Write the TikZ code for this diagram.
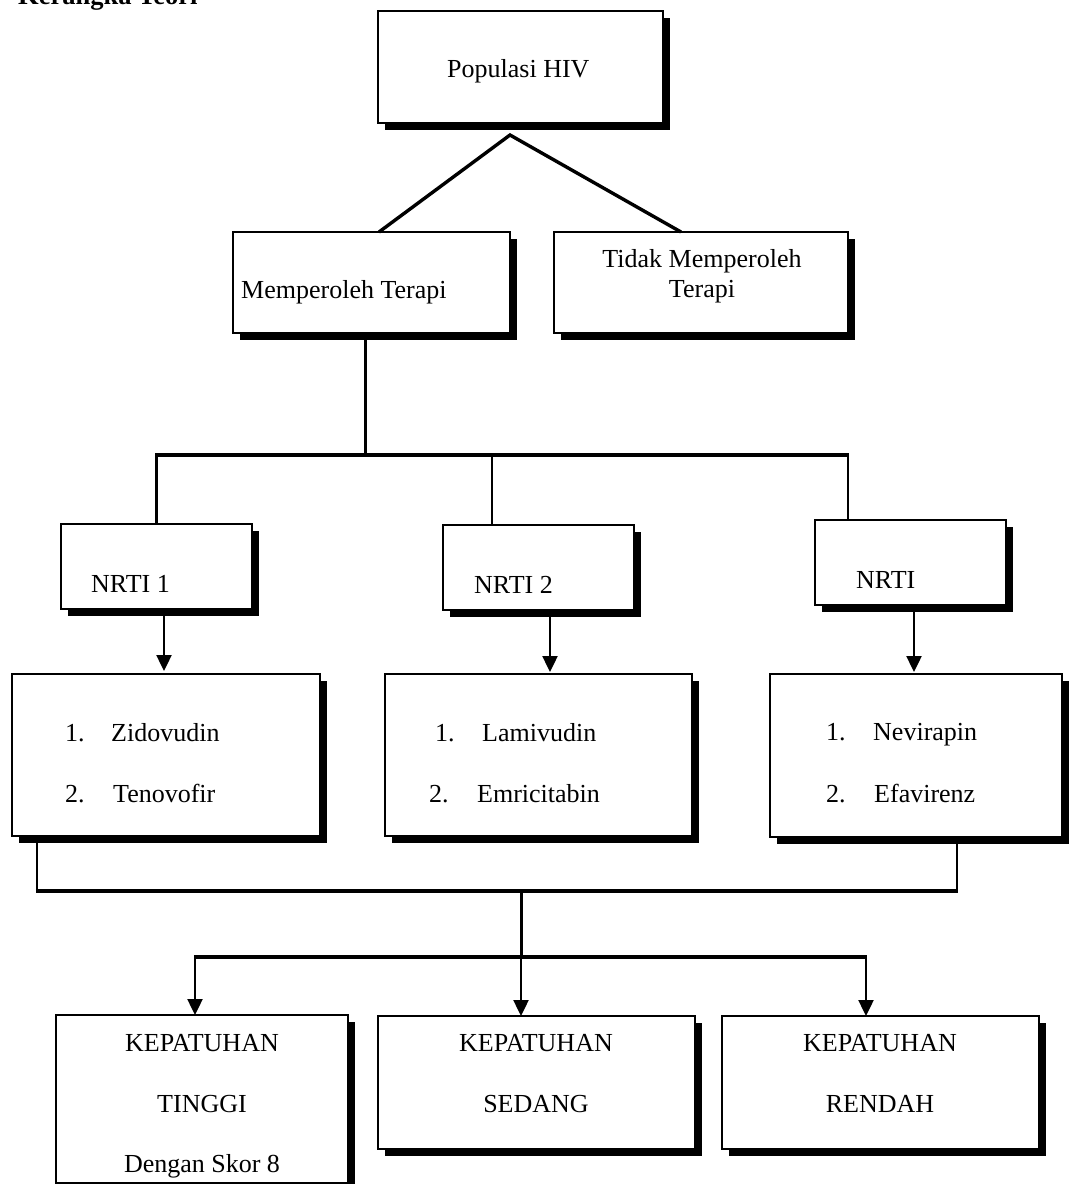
\documentclass[tikz,border=0pt]{standalone}
\usepackage{fontspec}
\setmainfont{Liberation Serif}
\usetikzlibrary{arrows.meta,shadows}
\begin{document}
\begin{tikzpicture}[x=1pt,y=-1pt,
  box/.style={draw=black, line width=1.6pt, fill=white, rectangle, inner sep=0pt, outer sep=0pt,
     drop shadow={fill=black, opacity=1, shadow xshift=6.5pt, shadow yshift=-6.5pt}},
  txt/.style={inner sep=0pt, anchor=base west, font=\fontsize{26}{31}\selectfont},
  ctxt/.style={inner sep=0pt, anchor=base, font=\fontsize{26}{31}\selectfont},
  heavy/.style={line width=3.4pt},
  light/.style={line width=2.3pt},
  arr/.style={line width=2.4pt, -{Triangle[width=15pt,length=16pt]}},
]
\useasboundingbox (0,0) rectangle (1081,1184);

% title (partly cut off at top, as in the reference)
\node[inner sep=0pt, anchor=base west, font=\fontsize{26.5}{30}\selectfont\bfseries] (title) at (18,4) {Kerangka Teori};

% boxes
\node[box, minimum width=285pt, minimum height=112pt] (pop) at (520.5,67) {};
\node[box, minimum width=277pt, minimum height=101pt] (mem) at (371.5,282.5) {};
\node[box, minimum width=294pt, minimum height=101pt] (tid) at (701,282.5) {};
\node[box, minimum width=191pt, minimum height=85pt] (n1) at (156.5,566.5) {};
\node[box, minimum width=191pt, minimum height=85pt] (n2) at (538.5,567.5) {};
\node[box, minimum width=191pt, minimum height=85pt] (n3) at (910.5,562.5) {};
\node[box, minimum width=308pt, minimum height=162pt] (d1) at (166,755) {};
\node[box, minimum width=307pt, minimum height=162pt] (d2) at (538.5,755) {};
\node[box, minimum width=292pt, minimum height=163pt] (d3) at (916,755.5) {};
\node[box, minimum width=292pt, minimum height=168pt] (k1) at (202,1099) {};
\node[box, minimum width=317pt, minimum height=133pt] (k2) at (536.5,1082.5) {};
\node[box, minimum width=317pt, minimum height=133pt] (k3) at (880.5,1082.5) {};

% texts
\node[txt] (popT) at (447,77) {Populasi HIV};
\node[txt] (memT) at (241,298) {Memperoleh Terapi};
\node[ctxt] (tidT1) at (702,267) {Tidak Memperoleh};
\node[ctxt] (tidT2) at (702,297) {Terapi};
\node[txt] (n1T) at (91,592) {NRTI 1};
\node[txt] (n2T) at (474,593) {NRTI 2};
\node[txt] (n3T) at (856,588) {NRTI};

\node[txt] (d1a) at (65,741) {1.};
\node[txt] (d1b) at (111,741) {Zidovudin};
\node[txt] (d1c) at (65,802) {2.};
\node[txt] (d1d) at (113,802) {Tenovofir};

\node[txt] (d2a) at (435,741) {1.};
\node[txt] (d2b) at (482,741) {Lamivudin};
\node[txt] (d2c) at (429,802) {2.};
\node[txt] (d2d) at (477,802) {Emricitabin};

\node[txt] (d3a) at (826,740) {1.};
\node[txt] (d3b) at (873,740) {Nevirapin};
\node[txt] (d3c) at (826,802) {2.};
\node[txt] (d3d) at (874,802) {Efavirenz};

\node[ctxt] (k1a) at (202,1051) {KEPATUHAN};
\node[ctxt] (k1b) at (202,1112) {TINGGI};
\node[ctxt] (k1c) at (202,1172) {Dengan Skor 8};
\node[ctxt] (k2a) at (536,1051) {KEPATUHAN};
\node[ctxt] (k2b) at (536,1112) {SEDANG};
\node[ctxt] (k3a) at (880,1051) {KEPATUHAN};
\node[ctxt] (k3b) at (880,1112) {RENDAH};

% connectors: top
\coordinate (apex) at (510,135);
\coordinate (memTop) at ([xshift=7.5pt]mem.north);
\coordinate (tidTop) at ([xshift=-20pt]tid.north);
\draw[heavy, line join=miter] (memTop) -- (apex) -- (tidTop);

% therapy branch bar
\coordinate (bar) at (0,455);
\coordinate (memBot) at ([xshift=-6pt]mem.south);
\coordinate (n1Top) at (n1.north);
\coordinate (n2Top) at ([xshift=-46.5pt]n2.north);
\coordinate (n3Top) at ([xshift=-62.5pt]n3.north);
\draw[light] (memBot) -- (memBot |- bar);
\draw[heavy] ([xshift=-1.2pt]n1Top |- bar) -- ([xshift=1.2pt]n3Top |- bar);
\draw[light] (n1Top |- bar) -- (n1Top);
\draw[light] (n2Top |- bar) -- (n2Top);
\draw[light] (n3Top |- bar) -- (n3Top);

% NRTI arrows
\coordinate (n1Bot) at ([xshift=7.5pt]n1.south);
\coordinate (n2Bot) at ([xshift=11.5pt]n2.south);
\coordinate (n3Bot) at ([xshift=3.5pt]n3.south);
\draw[arr, shorten >=3pt] (n1Bot) -- (n1Bot |- d1.north);
\draw[arr, shorten >=2pt] (n2Bot) -- (n2Bot |- d2.north);
\draw[arr, shorten >=2pt] (n3Bot) -- (n3Bot |- d3.north);

% bottom collector
\coordinate (j1) at (521,891);
\coordinate (j2) at (521,957);
\coordinate (d1Bot) at ([xshift=-129pt]d1.south);
\coordinate (d3Bot) at ([xshift=41pt]d3.south);
\draw[light] (d1Bot) -- (d1Bot |- j1);
\draw[light] (d3Bot) -- (d3Bot |- j1);
\draw[heavy] ([xshift=-1.2pt]d1Bot |- j1) -- ([xshift=1.2pt]d3Bot |- j1);
\draw[line width=3pt] (j1) -- (j2);

\coordinate (k1Top) at ([xshift=-7pt]k1.north);
\coordinate (k2Top) at ([xshift=-15.5pt]k2.north);
\coordinate (k3Top) at ([xshift=-14.5pt]k3.north);
\draw[heavy] ([xshift=-1.2pt]k1Top |- j2) -- ([xshift=1.2pt]k3Top |- j2);
\draw[arr] (k1Top |- j2) -- (k1Top);
\draw[arr] (k2Top |- j2) -- (k2Top);
\draw[arr] (k3Top |- j2) -- (k3Top);
\end{tikzpicture}
\end{document}
